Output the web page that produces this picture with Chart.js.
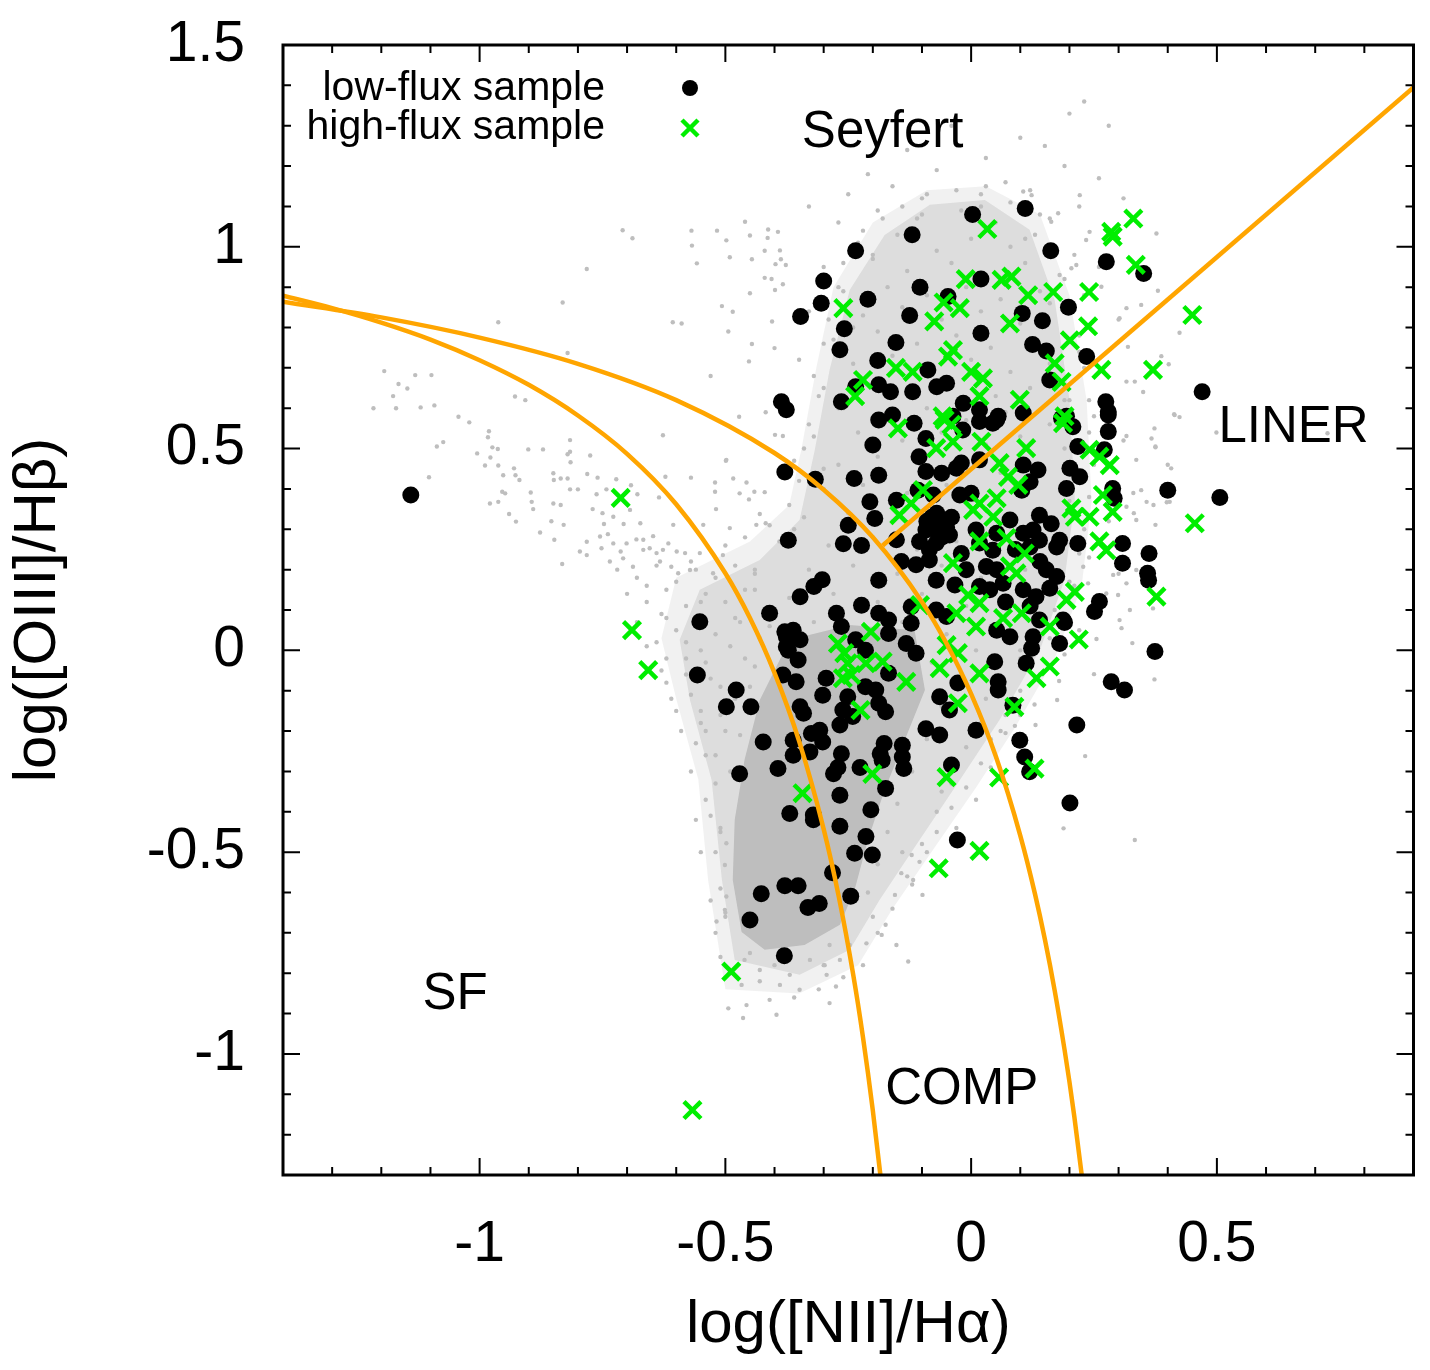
<!DOCTYPE html>
<html lang="en">
<head>
<meta charset="UTF-8">
<title>BPT diagram</title>
<script src="https://cdn.jsdelivr.net/npm/chart.js"></script>
<style>
  html, body { margin: 0; padding: 0; background: #fff; }
  #wrap { width: 1430px; height: 1370px; }
</style>
</head>
<body>
<div id="wrap"><canvas id="bpt" width="1430" height="1370"></canvas></div>
<script>
// axis ranges and labelled ticks
const xRange = [-1.4, 0.9];
const yRange = [-1.3, 1.5];
const xLabels = ['-1', '-0.5', '0', '0.5'];
const yLabels = ['-1', '-0.5', '0', '0.5', '1', '1.5'];

// demarcation curves
const kauffX = [-1.4, -1.3, -1.2, -1.1, -1.0, -0.9, -0.8, -0.7, -0.6, -0.5, -0.45, -0.4, -0.35, -0.3, -0.27, -0.24, -0.22, -0.2, -0.185, -0.18];
const kauffY = [0.879, 0.848, 0.812, 0.770, 0.719, 0.658, 0.582, 0.487, 0.362, 0.191, 0.08, -0.056, -0.225, -0.443, -0.606, -0.803, -0.959, -1.14, -1.296, -1.352];
const kewleyX = [-1.4, -1.2, -1.0, -0.8, -0.6, -0.4, -0.3, -0.2, -0.1, -0.05, 0.0, 0.05, 0.1, 0.13, 0.15, 0.17, 0.19, 0.2, 0.21, 0.225, 0.23];
const kewleyY = [0.864, 0.825, 0.775, 0.710, 0.620, 0.489, 0.398, 0.280, 0.120, 0.017, -0.108, -0.262, -0.459, -0.604, -0.716, -0.843, -0.989, -1.069, -1.156, -1.300, -1.352];
const schawX = [-0.18, 0.9];
const schawY = [0.26, 1.395];

// outlines of the SDSS cloud: solid core, inner halo, faint outer halo
const cloudCore = [[-0.43,-0.123],[-0.369,0.026],[-0.247,0.063],[-0.115,0.05],[-0.094,-0.098],[-0.135,-0.222],[-0.176,-0.346],[-0.21,-0.47],[-0.237,-0.593],[-0.267,-0.68],[-0.339,-0.73],[-0.42,-0.742],[-0.467,-0.698],[-0.485,-0.569],[-0.481,-0.42],[-0.461,-0.271],[-0.43,-0.123]];
const cloudHalo = [[-0.481,-0.767],[-0.507,-0.569],[-0.528,-0.321],[-0.572,-0.123],[-0.593,0.026],[-0.552,0.15],[-0.43,0.224],[-0.349,0.323],[-0.318,0.497],[-0.288,0.695],[-0.247,0.893],[-0.176,1.029],[-0.084,1.104],[0.028,1.116],[0.119,1.042],[0.17,0.868],[0.2,0.621],[0.211,0.373],[0.19,0.175],[0.14,0.001],[0.058,-0.172],[-0.023,-0.321],[-0.105,-0.47],[-0.186,-0.618],[-0.247,-0.742],[-0.349,-0.804],[-0.481,-0.767]];
const cloudOuter = [[-0.5,-0.84],[-0.535,-0.57],[-0.555,-0.32],[-0.6,-0.12],[-0.63,0.03],[-0.6,0.18],[-0.45,0.27],[-0.37,0.36],[-0.345,0.5],[-0.315,0.7],[-0.28,0.9],[-0.2,1.06],[-0.09,1.14],[0.03,1.15],[0.14,1.08],[0.2,0.88],[0.235,0.62],[0.245,0.37],[0.225,0.16],[0.17,-0.02],[0.09,-0.19],[0.01,-0.34],[-0.075,-0.49],[-0.16,-0.64],[-0.23,-0.78],[-0.35,-0.85],[-0.5,-0.84]];

// individual SDSS galaxies (grey)
const sdss = [
[0.23,1.36],[0.2,1.33],[-0.04,1.3],[0.1,1.27],[0.28,1.3],[-0.13,1.24],[0.03,1.22],[0.15,1.25],[0.19,1.2],[-0.21,1.18],[-0.07,1.19],[0.07,1.16],[0.26,1.17],[-0.25,1.13],[-0.1,1.12],[0.12,1.14],[0.31,1.12],[-0.16,1.15],[0.02,1.13],[-0.33,1.1],[0.22,1.1],
[-0.27,1.06],[-0.19,1.09],[-0.11,1.07],[-0.02,1.09],[0.05,1.06],[0.16,1.07],[-0.23,1.01],[-0.15,1.03],[-0.07,0.99],[0.0,1.02],[0.08,1.0],[0.13,1.03],[0.21,0.98],[-0.3,0.95],[-0.2,0.97],[-0.13,0.94],[-0.04,0.96],[0.03,0.93],[0.11,0.96],[0.18,0.93],[0.26,0.95],[-0.26,0.89],[-0.17,0.9],[-0.09,0.88],[-0.01,0.9],[0.06,0.87],[0.14,0.89],[0.23,0.88],[-0.33,0.84],[-0.22,0.83],[-0.14,0.85],[-0.06,0.82],[0.02,0.84],[0.1,0.81],[0.19,0.84],[0.3,0.82],[-0.28,0.77],[-0.19,0.79],[-0.11,0.76],[-0.03,0.78],[0.04,0.75],[0.13,0.77],[0.22,0.74],[-0.35,0.72],[-0.24,0.71],[-0.16,0.73],[-0.08,0.7],[0.0,0.72],[0.08,0.69],[0.16,0.71],[0.27,0.69],[-0.3,0.65],[-0.21,0.66],[-0.12,0.64],[-0.04,0.66],[0.05,0.63],[0.12,0.65],[0.2,0.62],[0.35,0.64],[-0.37,0.59],[-0.26,0.6],[-0.18,0.58],[-0.09,0.6],[-0.01,0.57],[0.07,0.59],[0.16,0.56],[0.25,0.58],[-0.32,0.53],[-0.23,0.54],[-0.14,0.52],[-0.06,0.54],[0.03,0.51],[0.1,0.53],[0.19,0.5],[0.31,0.52],[-0.36,0.47],[-0.27,0.46],[-0.19,0.48],[-0.1,0.45],[-0.02,0.47],[0.06,0.44],[0.14,0.46],[0.23,0.43],[0.4,0.46],[-0.3,0.4],[-0.22,0.41],[-0.13,0.39],[-0.05,0.41],[0.03,0.38],[0.11,0.4],[0.2,0.37],[0.33,0.39],[-0.34,0.33],[-0.25,0.34],[-0.16,0.32],[-0.08,0.34],[0.0,0.31],[0.08,0.33],[0.17,0.3],[0.28,0.32],[-0.39,0.27],[-0.29,0.26],[-0.2,0.28],[-0.11,0.25],[-0.03,0.27],[0.05,0.24],[0.14,0.26],[0.24,0.23],[-0.33,0.2],[-0.24,0.21],[-0.15,0.19],[-0.06,0.21],[0.02,0.18],[0.11,0.2],[0.2,0.17],[0.3,0.19],[-0.44,0.15],[-0.37,0.13],[-0.28,0.14],[-0.19,0.12],[-0.1,0.14],[-0.01,0.11],[0.08,0.13],[0.17,0.1],[0.26,0.12],[-0.48,0.08],[-0.41,0.06],[-0.32,0.07],[-0.23,0.05],[-0.14,0.07],[-0.05,0.04],[0.04,0.06],[0.13,0.03],[0.22,0.05],
[-0.55,0.0],[-0.46,-0.02],[-0.27,-0.01],[-0.08,-0.03],[0.01,0.0],[0.1,-0.02],[0.19,-0.01],[-0.58,-0.06],[-0.51,-0.09],[-0.02,-0.07],[0.06,-0.09],[0.14,-0.06],[-0.55,-0.15],[-0.5,-0.2],[-0.06,-0.14],[0.03,-0.12],[0.1,-0.16],[-0.54,-0.26],[-0.52,-0.33],[-0.09,-0.22],[-0.01,-0.24],[0.06,-0.2],[-0.12,-0.3],[-0.04,-0.33],[0.04,-0.29],[-0.53,-0.41],[-0.15,-0.38],[-0.07,-0.4],[0.01,-0.37],[-0.52,-0.5],[-0.17,-0.45],[-0.1,-0.48],[-0.03,-0.44],[-0.51,-0.59],[-0.19,-0.53],[-0.13,-0.56],[-0.21,-0.6],[-0.5,-0.66],
[-0.142,-0.552],[-0.118,-0.569],[-0.099,-0.606],[-0.155,-0.606],[-0.174,-0.68],[-0.152,-0.73],[-0.128,-0.771],[-0.182,-0.705],[-0.213,-0.726],[-0.267,-0.767],[-0.288,-0.874],[-0.396,-0.903],[-0.464,-0.911],[-0.494,-0.887],[-0.457,-0.879],[-0.275,-0.833],[-0.294,-0.804],[-0.518,-0.672],[-0.501,-0.643],[-0.498,-0.61],[-0.498,-0.478],[-0.501,-0.532],[-0.121,-0.507],[-0.105,-0.524],
[-0.461,-0.767],[-0.43,-0.792],[-0.4,-0.78],[-0.369,-0.804],[-0.349,-0.841],[-0.328,-0.767],[-0.298,-0.78],[-0.467,-0.829],[-0.389,-0.829],[-0.41,-0.866],[-0.288,-0.73],[-0.247,-0.73],
[-0.709,1.041],[-0.689,1.021],[-0.782,0.945],[-0.831,0.862],[-0.962,0.813],[-0.821,0.737],[-1.194,0.692],[-1.131,0.682],[-1.098,0.682],[-1.165,0.66],[-1.147,0.649],[-1.176,0.63],[-1.216,0.6],[-1.17,0.6],[-1.12,0.602],[-1.092,0.607],[-1.043,0.579],[-1.021,0.565],[-0.928,0.629],[-0.907,0.62],[-0.981,0.543],[-0.983,0.528],[-1.087,0.505],[-1.074,0.516],[-1.103,0.429],[-1.005,0.488],[-0.974,0.503],[-0.963,0.499],[-0.978,0.478],[-0.989,0.458],[-0.962,0.458],[-0.952,0.434],[-0.93,0.451],[-0.927,0.434],[-0.919,0.422],[-0.954,0.393],[-0.948,0.389],[-0.979,0.364],[-0.962,0.368],[-0.94,0.338],[-0.926,0.319],[-0.896,0.391],[-0.894,0.368],[-0.891,0.35],[-0.901,0.498],[-0.871,0.498],[-0.816,0.521],[-0.816,0.492],[-0.821,0.486],[-0.815,0.466],[-0.775,0.483],[-0.85,0.439],[-0.849,0.422],[-0.835,0.426],[-0.821,0.426],[-0.781,0.437],[-0.76,0.428],[-0.722,0.424],[-0.816,0.399],[-0.8,0.399],[-0.762,0.387],[-0.742,0.399],[-0.692,0.409],[-0.679,0.387],[-0.85,0.364],[-0.835,0.36],[-0.77,0.35],[-0.75,0.34],[-0.728,0.331],[-0.694,0.348],[-0.854,0.32],[-0.829,0.311],[-0.877,0.292],[-0.848,0.274],[-0.832,0.214],[-0.747,0.313],[-0.707,0.313],[-0.673,0.315],[-0.782,0.269],[-0.755,0.282],[-0.739,0.288],[-0.728,0.265],[-0.701,0.265],[-0.681,0.275],[-0.667,0.274],[-0.647,0.283],[-0.796,0.245],[-0.782,0.236],[-0.752,0.253],[-0.735,0.22],[-0.713,0.245],[-0.708,0.228],[-0.688,0.207],[-0.667,0.249],[-0.654,0.253],[-0.64,0.241],[-0.627,0.249],[-0.616,0.265],[-0.599,0.245],[-0.582,0.241],[-0.633,0.22],[-0.61,0.207],[-0.596,0.191],[-0.572,0.199],[-0.552,0.241],[-0.505,0.236],[-0.525,0.191],[-0.491,0.303],[-0.545,0.311],[-0.606,0.311],[-0.635,0.379],[-0.622,0.43],[-0.627,0.533],[-0.57,0.428],[-0.521,0.416],[-0.521,0.393],[-0.519,0.35],[-0.499,0.47],[-0.484,0.426],[-0.471,0.389],[-0.457,0.416],[-0.441,0.393],[-0.452,0.374],[-0.42,0.392],[-0.43,0.338],[-0.437,0.311],[-0.418,0.315],[-0.472,0.579],[-0.418,0.59],[-0.399,0.534],[-0.383,0.531],[-0.53,0.68],[-0.452,0.716],[-0.446,0.759],[-0.4,0.749],[-0.494,0.79],[-0.405,0.815],[-0.607,0.813],[-0.589,0.81],[-0.507,0.853],[-0.485,0.839],[-0.45,0.885],[-0.399,0.893],[-0.42,0.923],[-0.406,0.92],[-0.383,0.907],[-0.558,0.959],[-0.491,0.974],[-0.446,0.969],[-0.398,0.957],[-0.42,0.99],[-0.389,0.991],[-0.568,1.003],[-0.498,1.016],[-0.45,1.028],[-0.414,1.022],[-0.569,1.04],[-0.517,1.04],[-0.46,1.062],[-0.413,1.043],[-0.393,1.037],[-0.387,0.969],[-0.377,0.955],[-0.498,0.472],
[-0.72,0.2],[-0.68,0.18],[-0.64,0.21],[-0.6,0.17],[-0.56,0.2],[-0.52,0.18],[-0.48,0.21],[-0.44,0.19],[-0.7,0.14],[-0.66,0.12],[-0.62,0.15],[-0.58,0.11],[-0.54,0.14],[-0.5,0.12],[-0.46,0.15],[-0.42,0.1],[-0.68,0.07],[-0.63,0.09],[-0.6,0.05],[-0.56,0.08],[-0.52,0.04],[-0.47,0.07],[-0.43,0.03],[-0.66,0.01],[-0.62,-0.02],[-0.58,0.02],[-0.54,-0.03],[-0.49,0.01],[-0.44,-0.04],[-0.62,-0.08],[-0.57,-0.11],[-0.53,-0.07],[-0.48,-0.12],[-0.45,-0.09],[-0.6,-0.15],[-0.55,-0.18],[-0.51,-0.16],[-0.47,-0.21],[-0.56,-0.23],[-0.52,-0.26],[-0.49,-0.3],[-0.54,-0.37],[-0.51,-0.44],
[0.377,1.033],[0.38,0.891],[0.424,0.787],[0.387,0.729],[0.402,0.709],[0.413,0.585],[0.424,0.578],[0.373,0.55],[0.367,0.525],[0.375,0.503],[0.499,0.54],[0.725,0.538],[0.407,0.451],[0.371,0.36],[0.398,0.367],[0.375,0.311],[0.37,0.104],
[0.306,0.055],[0.328,0.018],[0.255,0.028],[0.25,-0.059],[0.373,-0.072],[0.179,-0.076],[0.175,-0.123],[0.129,-0.134],[0.131,-0.185],[0.232,-0.262],[0.188,-0.441],[0.07,-0.205],[0.089,-0.187],[0.333,-0.47],
[0.414,0.583],[0.316,0.531],[0.375,0.505],[0.336,0.472],[0.346,0.397],[0.357,0.368],[0.404,0.368],[0.331,0.34],[0.336,0.323],[0.316,0.356],[0.309,0.232],[0.336,0.199],[0.289,0.187],[0.316,0.166],[0.275,0.141],[0.299,0.137],[0.323,0.1],[0.302,0.075],[0.228,0.207],[0.238,0.166],
[0.221,1.128],[0.285,0.975],[0.316,0.848],[0.302,0.823],[0.319,0.752],[0.346,0.856],[0.265,0.901],[0.316,0.666],[0.333,0.666],[0.234,1.017],[0.241,1.037],[0.214,0.955],[0.204,0.947],[0.177,1.083],[0.163,1.062],[0.123,1.128],[0.106,1.137],
[-0.52,-0.7],[-0.53,-0.62],[-0.55,-0.5],[-0.56,-0.42],[-0.57,-0.3],[-0.59,-0.2],[-0.61,-0.12],[-0.63,-0.05],[-0.64,0.02],[-0.62,0.08],[-0.66,0.16],[-0.57,0.22],[-0.5,0.26],[-0.46,0.28],[-0.41,0.31],[-0.37,0.36],[-0.35,0.42],[-0.34,0.5],[-0.33,0.56],[-0.31,0.63],[-0.32,0.68],[-0.3,0.76],[-0.29,0.82],[-0.27,0.9],[-0.26,0.96],[-0.22,1.04],[-0.18,1.07],[-0.14,1.1],[-0.09,1.13],[-0.03,1.14],[0.03,1.15],[0.08,1.11],[0.14,1.08],[0.17,1.0],[0.19,0.92],[0.21,0.85],[0.22,0.78],[0.23,0.7],[0.24,0.62],[0.24,0.54],[0.25,0.46],[0.24,0.38],[0.23,0.3],[0.22,0.24],[0.21,0.16],[0.18,0.09],[0.16,0.03],[0.12,-0.04],[0.1,-0.1],[0.07,-0.16],[0.04,-0.22],[0.02,-0.28],[-0.01,-0.34],[-0.04,-0.39],[-0.07,-0.45],[-0.09,-0.5],[-0.12,-0.58],[-0.16,-0.64],[-0.19,-0.7],[-0.22,-0.78],[-0.26,-0.81],[-0.31,-0.84],[-0.36,-0.86],[-0.43,-0.82],[-0.49,-0.8],[-0.51,-0.76],
[-0.5,-0.65],[-0.51,-0.45],[-0.54,-0.2],[-0.58,-0.02],[-0.55,0.12],[-0.44,0.2],[-0.36,0.3],[-0.3,0.45],[-0.27,0.6],[-0.24,0.8],[-0.2,0.98],[-0.1,1.08],[0.02,1.1],[0.11,1.02],[0.16,0.86],[0.19,0.62],[0.2,0.4],[0.17,0.18],[0.1,0.0],[0.02,-0.18],[-0.06,-0.35],[-0.14,-0.5],[-0.2,-0.66],[-0.3,-0.78],[-0.45,-0.75]
];

// low-flux sample (black dots)
const lowFlux = [
[0.003,1.08],[-0.12,1.03],[-0.235,0.99],[0.02,0.92],[-0.30,0.915],[-0.305,0.86],[-0.21,0.87],[-0.104,0.90],[-0.347,0.827],[-0.258,0.797],[-0.125,0.83],[-0.047,0.877],[0.02,0.786],[-0.267,0.745],[-0.153,0.763],[-0.19,0.718],[-0.088,0.695],[-0.07,0.653],[-0.05,0.662],[-0.188,0.658],[-0.164,0.641],[-0.119,0.641],[-0.264,0.616],[-0.235,0.653],[-0.386,0.616],[-0.376,0.596],[-0.016,0.612],[0.017,0.596],[-0.16,0.583],
[0.11,1.095],[0.162,0.99],[0.275,0.963],[0.351,0.934],[0.104,0.835],[0.198,0.85],[0.145,0.817],[0.125,0.758],[0.153,0.742],[0.235,0.728],[0.16,0.67],[0.274,0.616],[0.279,0.591],[0.47,0.641],[0.055,0.58],[0.106,0.588],[0.194,0.58],
[-0.116,0.563],[-0.188,0.571],[-0.037,0.58],[0.017,0.567],[0.044,0.563],[-0.2,0.509],[-0.092,0.525],[-0.017,0.546],[-0.106,0.48],[-0.02,0.464],[0.017,0.472],[-0.379,0.442],[-0.317,0.424],[-0.238,0.426],[-0.188,0.434],[-0.092,0.443],[-0.06,0.439],[-0.03,0.451],[-0.108,0.397],[-0.077,0.385],[-0.206,0.368],[-0.152,0.372],[-0.023,0.385],[0.0,0.389],[-0.196,0.327],[-0.25,0.31],[-0.057,0.323],[-0.092,0.298],[-0.044,0.286],[-0.105,0.27],[-0.071,0.266],[-0.066,0.31],[-0.08,0.33],[-0.372,0.273],[-0.26,0.264],[-0.223,0.26],[-0.152,0.274],[0.01,0.298],[0.017,0.266],[0.044,0.248],[-0.142,0.22],[-0.112,0.212],[-0.085,0.224],[-0.32,0.158],[-0.303,0.175],[-0.348,0.133],[-0.188,0.174],[-0.071,0.174],[-0.033,0.162],[-0.223,0.112],[-0.274,0.092],[-0.188,0.092],[-0.168,0.075],[-0.122,0.108],[-0.071,0.1],[-0.05,0.084],[-0.122,0.067],[0.017,0.158],[0.038,0.15],[-0.01,0.2],[0.031,0.208],
[-0.075,0.3],[-0.06,0.28],[-0.085,0.25],[-0.05,0.305],[-0.07,0.34],[-0.04,0.33],[-0.09,0.32],[0.09,0.25],[0.14,0.22],[0.07,0.12],[0.12,0.11],[-0.02,0.24],
[0.279,0.583],[0.279,0.542],[0.184,0.575],[0.207,0.554],[0.217,0.505],[0.271,0.497],[0.052,0.571],[0.106,0.459],[0.136,0.447],[0.201,0.451],[0.221,0.43],[0.12,0.418],[0.103,0.397],[0.194,0.401],[0.288,0.401],[0.291,0.377],[0.4,0.397],[0.139,0.335],[0.163,0.314],[0.126,0.298],[0.139,0.273],[0.18,0.273],[0.174,0.256],[0.217,0.265],[0.308,0.265],[0.362,0.24],[0.308,0.216],[0.359,0.191],[0.361,0.174],[0.153,0.2],[0.174,0.183],[0.16,0.154],[0.132,0.133],[0.106,0.15],[0.261,0.121],[0.251,0.096],[0.187,0.075],[0.139,0.075],[0.052,0.2],[0.065,0.166],[0.079,0.323],[0.052,0.29],[0.106,0.29],[0.12,0.256],
[-0.376,0.034],[-0.348,0.026],[-0.264,0.059],[-0.372,0.0],[-0.235,0.026],[-0.215,0.0],[-0.168,0.042],[-0.132,0.017],[-0.112,-0.007],[-0.352,-0.024],[-0.383,-0.061],[-0.356,-0.078],[-0.295,-0.069],[-0.215,-0.09],[-0.194,-0.098],[-0.168,-0.057],[-0.302,-0.111],[-0.251,-0.115],[-0.188,-0.131],[-0.174,-0.152],[-0.064,-0.115],[-0.027,-0.081],[-0.044,-0.148],[-0.348,-0.14],[-0.341,-0.156],[-0.261,-0.148],[-0.241,-0.164],[-0.267,-0.185],[-0.308,-0.198],[-0.325,-0.206],[-0.092,-0.194],[-0.064,-0.21],[0.01,-0.198],[-0.362,-0.223],[-0.302,-0.227],[-0.177,-0.231],[-0.14,-0.235],[-0.362,-0.26],[-0.328,-0.252],[-0.264,-0.256],[-0.271,-0.29],[-0.185,-0.256],[-0.181,-0.272],[-0.14,-0.264],[-0.137,-0.293],[-0.226,-0.29],[-0.28,-0.306],[-0.04,-0.284],[-0.174,-0.342],[-0.267,-0.359],[-0.369,-0.404],[-0.321,-0.408],[-0.321,-0.42],[-0.204,-0.395],[-0.267,-0.436],[-0.214,-0.461],[-0.028,-0.47],
[0.052,0.05],[0.079,0.034],[0.126,0.034],[0.123,0.005],[0.18,0.017],[0.19,0.069],[0.048,-0.028],[0.112,-0.032],[0.055,-0.078],[0.055,-0.098],[0.374,-0.003],[0.285,-0.078],[0.312,-0.098],[0.085,-0.136],[0.215,-0.185],[0.099,-0.223],[0.109,-0.264],[0.119,-0.301],[0.201,-0.378],
[-0.552,0.071],[-0.557,-0.061],[-0.478,-0.098],[-0.498,-0.14],[-0.448,-0.14],[-0.41,0.092],[-0.379,0.046],[-0.362,0.05],[-0.376,0.009],[-0.423,-0.227],[-0.471,-0.306],[-0.393,-0.293],[-0.379,-0.583],[-0.352,-0.583],[-0.427,-0.603],[-0.45,-0.668],
[-0.332,-0.637],[-0.309,-0.627],[-0.282,-0.551],[-0.245,-0.609],[-0.237,-0.503],[-0.201,-0.507],[-0.38,-0.757],
[-1.14,0.385],[0.506,0.379]
];

// high-flux sample (green crosses)
const highFlux = [
[0.033,1.044],[-0.011,0.92],[-0.26,0.848],[-0.056,0.862],[-0.023,0.848],[-0.075,0.815],[-0.037,0.744],[-0.047,0.728],[-0.153,0.70],[-0.119,0.69],[0.0,0.69],[0.024,0.674],[-0.22,0.67],[-0.236,0.63],[0.017,0.63],[-0.058,0.58],
[0.33,1.07],[0.285,1.037],[0.288,1.025],[0.335,0.955],[0.062,0.918],[0.082,0.926],[0.116,0.88],[0.167,0.888],[0.24,0.888],[0.079,0.81],[0.238,0.803],[0.201,0.768],[0.17,0.711],[0.184,0.665],[0.265,0.695],[0.37,0.695],[0.45,0.831],[0.099,0.621],[0.19,0.58],
[-0.149,0.55],[-0.054,0.571],[-0.04,0.559],[-0.071,0.501],[-0.037,0.517],[0.021,0.517],[-0.098,0.397],[-0.122,0.364],[-0.146,0.335],[0.004,0.348],[0.017,0.364],[0.017,0.27],[-0.037,0.216],[-0.006,0.137],[0.017,0.117],[-0.104,0.112],[-0.03,0.092],
[0.187,0.563],[0.112,0.501],[0.241,0.497],[0.261,0.48],[0.282,0.459],[0.058,0.464],[0.075,0.43],[0.096,0.41],[0.268,0.385],[0.204,0.352],[0.211,0.331],[0.241,0.331],[0.288,0.343],[0.052,0.377],[0.045,0.331],[0.072,0.278],[0.261,0.27],[0.275,0.248],[0.109,0.24],[0.079,0.208],[0.092,0.191],[0.211,0.145],[0.194,0.125],[0.377,0.133],[0.455,0.315],[0.103,0.092],[0.065,0.08],[0.16,0.059],
[-0.204,0.046],[-0.271,0.017],[-0.258,-0.007],[-0.251,-0.032],[-0.261,-0.069],[-0.244,-0.061],[-0.214,-0.032],[-0.18,-0.028],[-0.132,-0.078],[-0.225,-0.148],[0.01,0.059],[-0.05,0.013],[-0.027,-0.007],[-0.064,-0.044],[0.017,-0.057],[-0.027,-0.131],[-0.201,-0.306],[-0.05,-0.314],[0.057,-0.315],[-0.343,-0.354],
[0.219,0.027],[0.16,-0.04],[0.133,-0.069],[0.088,-0.14],[0.129,-0.293],
[-0.69,0.05],[-0.657,-0.049],[-0.713,0.378],[-0.066,-0.54],[0.017,-0.497],[-0.488,-0.796],[-0.567,-1.139]
];

const FONT = '"Liberation Sans", Arial, Helvetica, sans-serif';
const GREEN = '#00ee00';
const xy = (xs, ys) => xs.map((v, i) => ({x: v, y: ys[i]}));
const pts = arr => arr.map(p => ({x: p[0], y: p[1]}));
const tickText = (labels) => function (v) {
  const s = String(Math.round(v * 10) / 10);
  return labels.includes(s) ? s : '';
};
const shape = (arr, color, order) => ({
  data: pts(arr), showLine: true, pointRadius: 0, borderWidth: 0,
  borderColor: 'rgba(0,0,0,0)', backgroundColor: color, fill: 'shape', tension: 0, order
});
const curve = (xs, ys) => ({
  data: xy(xs, ys), showLine: true, pointRadius: 0, borderColor: '#ffa500',
  borderWidth: 4.5, cubicInterpolationMode: 'monotone', fill: false, order: 0
});

// frame, mirrored inward ticks, region names and legend
const decorations = {
  id: 'decorations',
  afterDraw(chart) {
    const {ctx, chartArea: a, scales: {x, y}} = chart;
    ctx.save();
    ctx.strokeStyle = '#000';
    ctx.lineWidth = 2;
    ctx.beginPath();
    x.ticks.forEach(t => {
      const p = x.getPixelForValue(t.value);
      const len = t.label ? 17 : 8;
      ctx.moveTo(p, a.bottom); ctx.lineTo(p, a.bottom - len);
      ctx.moveTo(p, a.top); ctx.lineTo(p, a.top + len);
    });
    y.ticks.forEach(t => {
      const p = y.getPixelForValue(t.value);
      const len = t.label ? 17 : 8;
      ctx.moveTo(a.left, p); ctx.lineTo(a.left + len, p);
      ctx.moveTo(a.right, p); ctx.lineTo(a.right - len, p);
    });
    ctx.stroke();
    ctx.lineWidth = 3;
    ctx.strokeRect(a.left, a.top, a.right - a.left, a.bottom - a.top);

    // region names
    ctx.fillStyle = '#000';
    ctx.font = '51px ' + FONT;
    ctx.textAlign = 'center';
    ctx.textBaseline = 'middle';
    [['Seyfert', -0.18, 1.282], ['LINER', 0.656, 0.551], ['SF', -1.05, -0.853], ['COMP', -0.019, -1.089]]
      .forEach(([t, vx, vy]) => ctx.fillText(t, x.getPixelForValue(vx), y.getPixelForValue(vy)));

    // legend
    ctx.font = '41px ' + FONT;
    ctx.textAlign = 'right';
    ctx.textBaseline = 'alphabetic';
    ctx.fillText('low-flux sample', a.left + 322, a.top + 55);
    ctx.fillText('high-flux sample', a.left + 322, a.top + 94);
    const mx = a.left + 407;
    ctx.beginPath();
    ctx.arc(mx, a.top + 43, 8, 0, Math.PI * 2);
    ctx.fill();
    ctx.strokeStyle = GREEN;
    ctx.lineWidth = 4.5;
    ctx.beginPath();
    const cy = a.top + 83, r = 8;
    ctx.moveTo(mx - r, cy - r); ctx.lineTo(mx + r, cy + r);
    ctx.moveTo(mx - r, cy + r); ctx.lineTo(mx + r, cy - r);
    ctx.stroke();
    ctx.restore();
  }
};

new Chart(document.getElementById('bpt'), {
  type: 'scatter',
  data: {
    datasets: [
      curve(kauffX, kauffY),
      curve(kewleyX, kewleyY),
      { data: xy(schawX, schawY), showLine: true, pointRadius: 0, borderColor: '#ffa500', borderWidth: 4.5, fill: false, order: 0 },
      { data: pts(highFlux), pointStyle: 'crossRot', pointRadius: 12, borderColor: GREEN, backgroundColor: GREEN, borderWidth: 4.5, order: 1 },
      { data: pts(lowFlux), pointStyle: 'circle', pointRadius: 8.5, backgroundColor: '#000', borderWidth: 0, order: 2 },
      { data: pts(sdss), pointStyle: 'circle', pointRadius: 2.2, backgroundColor: '#bebebe', borderWidth: 0, order: 3 },
      shape(cloudCore, '#bebebe', 4),
      shape(cloudHalo, 'rgba(190,190,190,0.4)', 5),
      shape(cloudOuter, 'rgba(190,190,190,0.22)', 6)
    ]
  },
  options: {
    responsive: false,
    animation: false,
    events: [],
    layout: { padding: { left: 0, top: 45, right: 16, bottom: 0 } },
    plugins: { legend: { display: false }, tooltip: { enabled: false } },
    scales: {
      x: {
        type: 'linear', position: 'bottom',
        min: xRange[0], max: xRange[1],
        afterFit: s => { s.height = 195; s.paddingLeft = 0; s.paddingRight = 0; },
        grid: { display: false, drawTicks: false },
        border: { display: false },
        ticks: { stepSize: 0.1, autoSkip: false, maxRotation: 0, padding: 36, color: '#000',
                 font: { family: FONT, size: 57 }, callback: tickText(xLabels) },
        title: { display: true, text: 'log([NII]/H\u03b1)', color: '#000',
                 font: { family: FONT, size: 60 }, padding: { top: 0, bottom: 9 } }
      },
      y: {
        type: 'linear', position: 'left',
        min: yRange[0], max: yRange[1],
        afterFit: s => { s.width = 283; s.paddingTop = 0; s.paddingBottom = 0; },
        grid: { display: false, drawTicks: false },
        border: { display: false },
        ticks: { stepSize: 0.1, autoSkip: false, padding: 38, color: '#000',
                 font: { family: FONT, size: 57 }, callback: tickText(yLabels) },
        title: { display: true, text: 'log([OIII]/H\u03b2)', color: '#000',
                 font: { family: FONT, size: 60 }, padding: { top: 2, bottom: 0 } }
      }
    }
  },
  plugins: [decorations]
});
</script>
</body>
</html>
